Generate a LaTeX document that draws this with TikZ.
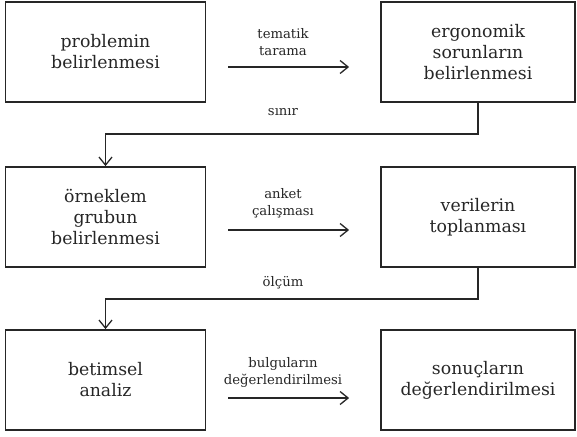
\documentclass[tikz,border=0pt]{standalone}
\usepackage{fontspec}
\setmainfont{DejaVu Serif}
\usetikzlibrary{arrows.meta}

\tikzset{
  stepbox/.style={draw=black!85, rectangle, line width=1.8pt, align=center, inner sep=0pt,
    text=black!85, font=\fontsize{17.3}{21}\selectfont},
  leftbox/.style={stepbox, minimum width=200pt, minimum height=100pt},
  rightbox/.style={stepbox, minimum width=194pt, minimum height=100pt},
  lbl/.style={align=center, text=black!85, font=\fontsize{13.2}{17}\selectfont},
  arr/.style={draw=black!85, line width=1.3pt,
    -{Straight Barb[length=8pt,width=13pt,line width=1.3pt]}},
}

\begin{document}
\begin{tikzpicture}[x=1pt, y=-1pt]
\useasboundingbox (0,0) rectangle (577,436);

\node[leftbox] (problem) at (105.5,52){problemin\\belirlenmesi};
\node[rightbox] (ergonomi) at (478,52){ergonomik\\sorunların\\belirlenmesi};
\node[leftbox] (orneklem) at (105.5,217){örneklem\\grubun\\belirlenmesi};
\node[rightbox] (veri) at (478,217){verilerin\\toplanması};
\node[leftbox] (betimsel) at (105.5,380){betimsel\\analiz};
\node[rightbox] (sonuc) at (478,380){sonuçların\\değerlendirilmesi};

\node[lbl] (tarama) at (283,42){tematik\\tarama};
\node[lbl] (sinir) at (283,112){sınır};
\node[lbl] (anket) at (283,203){anket\\çalışması};
\node[lbl] (olcum) at (283,283){ölçüm};
\node[lbl] (bulgu) at (283,372){bulguların\\değerlendirilmesi};

\draw[arr] ([shift={(22,15)}]problem.east) -- ([shift={(-31,15)}]ergonomi.west);
\draw[arr] ([shift={(22,13)}]orneklem.east) -- ([shift={(-31,13)}]veri.west);
\draw[arr] ([shift={(22,18)}]betimsel.east) -- ([shift={(-31,18)}]sonuc.west);

\draw[arr] (ergonomi.south) -- ++(0,31) -| (orneklem.north);
\draw[arr] (veri.south) -- ++(0,31) -| (betimsel.north);

\end{tikzpicture}
\end{document}
